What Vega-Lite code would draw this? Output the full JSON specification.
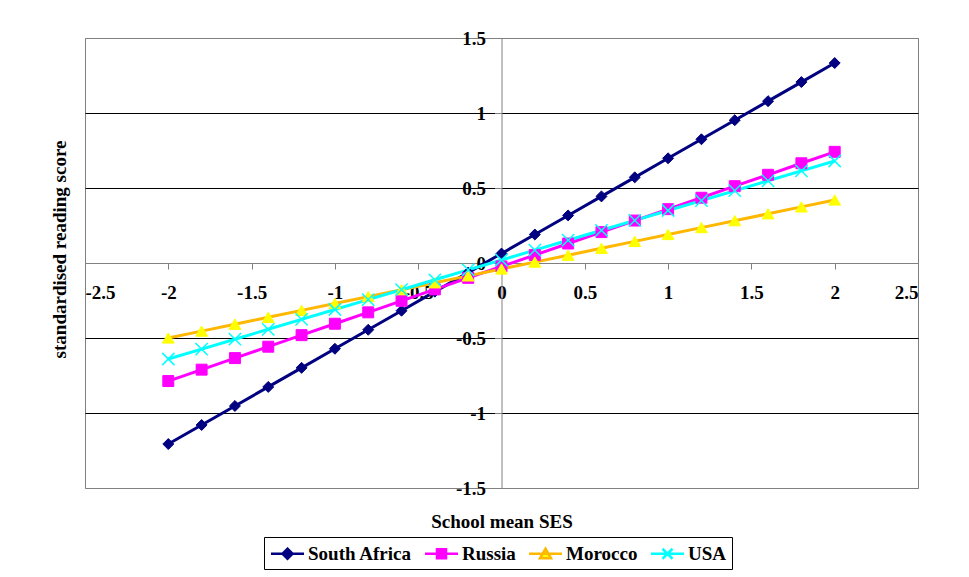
{
  "$schema": "https://vega.github.io/schema/vega-lite/v6.json",
  "width": 833,
  "height": 450,
  "autosize": {"type": "none"},
  "padding": {"left": 85, "top": 38, "right": 51, "bottom": 89},
  "background": "white",
  "config": {
    "view": {"stroke": "#808080", "strokeWidth": 1},
    "font": "Liberation Serif",
    "legend": {"strokeWidth": 1},
    "axis": {
      "labelFont": "Liberation Serif",
      "labelFontWeight": "bold",
      "labelFontSize": 19,
      "labelColor": "black",
      "titleFont": "Liberation Serif",
      "titleFontWeight": "bold",
      "titleFontSize": 19,
      "titleColor": "black",
      "domainColor": "#808080",
      "tickColor": "#808080",
      "labelExpr": "'' + datum.value"
    }
  },
  "data": {
    "values": [
      {"country": "South Africa", "ses": -2.0, "score": -1.207},
      {"country": "South Africa", "ses": -1.8, "score": -1.080},
      {"country": "South Africa", "ses": -1.6, "score": -0.953},
      {"country": "South Africa", "ses": -1.4, "score": -0.826},
      {"country": "South Africa", "ses": -1.2, "score": -0.699},
      {"country": "South Africa", "ses": -1.0, "score": -0.572},
      {"country": "South Africa", "ses": -0.8, "score": -0.445},
      {"country": "South Africa", "ses": -0.6, "score": -0.318},
      {"country": "South Africa", "ses": -0.4, "score": -0.191},
      {"country": "South Africa", "ses": -0.2, "score": -0.064},
      {"country": "South Africa", "ses": 0.0, "score": 0.063},
      {"country": "South Africa", "ses": 0.2, "score": 0.190},
      {"country": "South Africa", "ses": 0.4, "score": 0.317},
      {"country": "South Africa", "ses": 0.6, "score": 0.444},
      {"country": "South Africa", "ses": 0.8, "score": 0.571},
      {"country": "South Africa", "ses": 1.0, "score": 0.698},
      {"country": "South Africa", "ses": 1.2, "score": 0.825},
      {"country": "South Africa", "ses": 1.4, "score": 0.952},
      {"country": "South Africa", "ses": 1.6, "score": 1.079},
      {"country": "South Africa", "ses": 1.8, "score": 1.206},
      {"country": "South Africa", "ses": 2.0, "score": 1.333},
      {"country": "Russia", "ses": -2.0, "score": -0.787},
      {"country": "Russia", "ses": -1.8, "score": -0.711},
      {"country": "Russia", "ses": -1.6, "score": -0.634},
      {"country": "Russia", "ses": -1.4, "score": -0.558},
      {"country": "Russia", "ses": -1.2, "score": -0.481},
      {"country": "Russia", "ses": -1.0, "score": -0.405},
      {"country": "Russia", "ses": -0.8, "score": -0.329},
      {"country": "Russia", "ses": -0.6, "score": -0.252},
      {"country": "Russia", "ses": -0.4, "score": -0.176},
      {"country": "Russia", "ses": -0.2, "score": -0.099},
      {"country": "Russia", "ses": 0.0, "score": -0.023},
      {"country": "Russia", "ses": 0.2, "score": 0.053},
      {"country": "Russia", "ses": 0.4, "score": 0.130},
      {"country": "Russia", "ses": 0.6, "score": 0.206},
      {"country": "Russia", "ses": 0.8, "score": 0.283},
      {"country": "Russia", "ses": 1.0, "score": 0.359},
      {"country": "Russia", "ses": 1.2, "score": 0.435},
      {"country": "Russia", "ses": 1.4, "score": 0.512},
      {"country": "Russia", "ses": 1.6, "score": 0.588},
      {"country": "Russia", "ses": 1.8, "score": 0.665},
      {"country": "Russia", "ses": 2.0, "score": 0.741},
      {"country": "Morocco", "ses": -2.0, "score": -0.500},
      {"country": "Morocco", "ses": -1.8, "score": -0.454},
      {"country": "Morocco", "ses": -1.6, "score": -0.408},
      {"country": "Morocco", "ses": -1.4, "score": -0.362},
      {"country": "Morocco", "ses": -1.2, "score": -0.316},
      {"country": "Morocco", "ses": -1.0, "score": -0.270},
      {"country": "Morocco", "ses": -0.8, "score": -0.224},
      {"country": "Morocco", "ses": -0.6, "score": -0.178},
      {"country": "Morocco", "ses": -0.4, "score": -0.132},
      {"country": "Morocco", "ses": -0.2, "score": -0.086},
      {"country": "Morocco", "ses": 0.0, "score": -0.040},
      {"country": "Morocco", "ses": 0.2, "score": 0.006},
      {"country": "Morocco", "ses": 0.4, "score": 0.052},
      {"country": "Morocco", "ses": 0.6, "score": 0.098},
      {"country": "Morocco", "ses": 0.8, "score": 0.144},
      {"country": "Morocco", "ses": 1.0, "score": 0.190},
      {"country": "Morocco", "ses": 1.2, "score": 0.236},
      {"country": "Morocco", "ses": 1.4, "score": 0.282},
      {"country": "Morocco", "ses": 1.6, "score": 0.328},
      {"country": "Morocco", "ses": 1.8, "score": 0.374},
      {"country": "Morocco", "ses": 2.0, "score": 0.420},
      {"country": "USA", "ses": -2.0, "score": -0.640},
      {"country": "USA", "ses": -1.8, "score": -0.574},
      {"country": "USA", "ses": -1.6, "score": -0.508},
      {"country": "USA", "ses": -1.4, "score": -0.442},
      {"country": "USA", "ses": -1.2, "score": -0.376},
      {"country": "USA", "ses": -1.0, "score": -0.310},
      {"country": "USA", "ses": -0.8, "score": -0.244},
      {"country": "USA", "ses": -0.6, "score": -0.178},
      {"country": "USA", "ses": -0.4, "score": -0.112},
      {"country": "USA", "ses": -0.2, "score": -0.046},
      {"country": "USA", "ses": 0.0, "score": 0.020},
      {"country": "USA", "ses": 0.2, "score": 0.086},
      {"country": "USA", "ses": 0.4, "score": 0.152},
      {"country": "USA", "ses": 0.6, "score": 0.218},
      {"country": "USA", "ses": 0.8, "score": 0.284},
      {"country": "USA", "ses": 1.0, "score": 0.350},
      {"country": "USA", "ses": 1.2, "score": 0.416},
      {"country": "USA", "ses": 1.4, "score": 0.482},
      {"country": "USA", "ses": 1.6, "score": 0.548},
      {"country": "USA", "ses": 1.8, "score": 0.614},
      {"country": "USA", "ses": 2.0, "score": 0.680}
    ]
  },
  "encoding": {
    "x": {
      "field": "ses",
      "type": "quantitative",
      "scale": {"domain": [-2.5, 2.5], "nice": false, "zero": false},
      "axis": {
        "orient": "bottom",
        "offset": -225,
        "values": [-2.5, -2, -1.5, -1, -0.5, 0, 0.5, 1, 1.5, 2, 2.5],
        "grid": false,
        "tickSize": 6,
        "labelPadding": 23,
        "labelBaseline": "middle",
        "labelFont": "Liberation Serif",
        "title": "School mean SES",
        "titleFont": "Liberation Serif",
        "titleX": 416.5,
        "titleY": 258,
        "titleBaseline": "middle",
        "titleAnchor": "middle"
      }
    },
    "y": {
      "field": "score",
      "type": "quantitative",
      "scale": {"domain": [-1.5, 1.5], "nice": false, "zero": false},
      "axis": {
        "orient": "left",
        "offset": -416.5,
        "values": [-1.5, -1, -0.5, 0, 0.5, 1, 1.5],
        "grid": true,
        "gridColor": {
          "condition": {"test": "abs(datum.value) == 1.5 || datum.value == 0", "value": "#808080"},
          "value": "black"
        },
        "gridWidth": 1,
        "tickSize": 7,
        "labelPadding": 9,
        "labelFont": "Liberation Serif",
        "title": "standardised reading score",
        "titleFont": "Liberation Serif",
        "titleX": -442,
        "titleY": 211,
        "titleAngle": -90,
        "titleBaseline": "middle",
        "titleAnchor": "middle"
      }
    }
  },
  "layer": [
    {
      "mark": {"type": "line", "strokeWidth": 3},
      "encoding": {
        "color": {
          "field": "country",
          "type": "nominal",
          "sort": ["South Africa", "Russia", "Morocco", "USA"],
          "scale": {
            "domain": ["South Africa", "Russia", "Morocco", "USA"],
            "range": ["#000080", "#FF00FF", "#FFB700", "#00FFFF"]
          },
          "legend": {
            "orient": "none",
            "legendX": 179,
            "legendY": 499,
            "direction": "horizontal",
            "title": null,
            "fillColor": "white",
            "strokeColor": "black",
            "padding": 5,
            "columnPadding": 8,
            "symbolSize": 400,
            "symbolOffset": 7,
            "labelOffset": 9,
            "labelFont": "Liberation Serif",
            "labelFontWeight": "bold",
            "labelFontSize": 19,
            "labelColor": "black",
            "labelLimit": 300,
            "encode": {
              "symbols": {
                "update": {
                  "shape": {"signal": "datum.value === 'South Africa' ? 'M-1.65,0H1.65M0,-0.5L0.5,0L0,0.5L-0.5,0Z' : datum.value === 'Russia' ? 'M-1.65,0H1.65M-0.45,-0.45H0.45V0.45H-0.45Z' : datum.value === 'Morocco' ? 'M-1.65,0H1.65M0,-0.5L0.55,0.45H-0.55Z' : 'M-1.65,0H1.65M-0.5,-0.5L0.5,0.5M0.5,-0.5L-0.5,0.5'"},
                  "fill": {"signal": "datum.value === 'South Africa' ? '#000080' : datum.value === 'Russia' ? '#FF00FF' : datum.value === 'Morocco' ? '#FFFF00' : 'transparent'"},
                  "strokeWidth": {"value": 2.5}
                }
              }
            }
          }
        }
      }
    },
    {
      "transform": [{"filter": "datum.country === 'South Africa'"}],
      "mark": {"type": "point", "shape": "diamond", "filled": true, "fill": "#000080", "stroke": "#000080", "strokeWidth": 1, "size": 120, "opacity": 1}
    },
    {
      "transform": [{"filter": "datum.country === 'Russia'"}],
      "mark": {"type": "point", "shape": "square", "filled": true, "fill": "#FF00FF", "stroke": "#FF00FF", "strokeWidth": 1, "size": 120, "opacity": 1}
    },
    {
      "transform": [{"filter": "datum.country === 'Morocco'"}],
      "mark": {"type": "point", "shape": "triangle-up", "filled": true, "fill": "#FFFF00", "stroke": "#FFFF00", "strokeWidth": 1, "size": 140, "opacity": 1}
    },
    {
      "transform": [{"filter": "datum.country === 'USA'"}],
      "mark": {"type": "point", "shape": "M-1,-1L1,1M1,-1L-1,1", "filled": false, "stroke": "#00FFFF", "strokeWidth": 1.5, "size": 150, "opacity": 1}
    }
  ]
}
